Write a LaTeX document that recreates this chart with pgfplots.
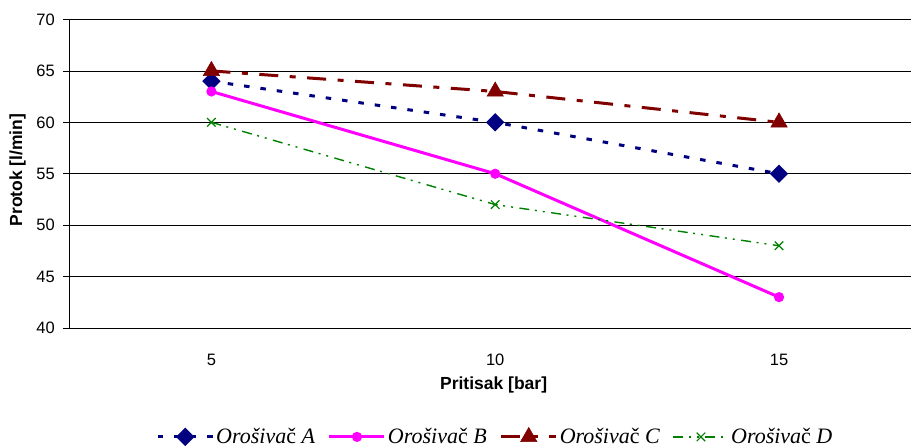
\documentclass[border=0pt]{standalone}
\usepackage{fontspec}
\setmainfont{Liberation Sans}
\newfontfamily\legfont{Liberation Serif}
\usepackage{pgfplots}
\pgfplotsset{compat=1.18}
\definecolor{cA}{RGB}{0,0,128}
\definecolor{cB}{RGB}{255,0,255}
\definecolor{cC}{RGB}{128,0,0}
\definecolor{cD}{RGB}{0,128,0}
\newcommand{\leg}[1]{{\legfont{\itshape Orošiva}č{\itshape\ #1}}}
\begin{document}
\begin{tikzpicture}[x=1bp,y=1bp]
\useasboundingbox (-69.5,-120) rectangle (841.5,328);
\begin{axis}[
  at={(0,0)}, anchor=south west,
  scale only axis,
  width=841.5bp, height=308.5bp,
  xmin=-0.5, xmax=2.465,
  ymin=40, ymax=70,
  xtick={0,1,2}, xticklabels={5,10,15},
  x tick style={draw=none},
  ytick={40,45,50,55,60,65,70},
  axis x line*=bottom, axis y line*=left,
  axis line style={black, line width=0.9bp},
  ymajorgrids,
  grid style={black, line width=0.8bp},
  tick align=outside,
  major tick length=6bp,
  y tick style={black, line width=0.8bp},
  /pgf/number format/assume math mode=true,
  tick label style={font=\fontsize{16.5bp}{19bp}\selectfont},
  xticklabel style={anchor=center, yshift=-26bp},
  yticklabel style={anchor=east, inner sep=0pt, xshift=-8.5bp},
  xlabel={\textbf{Pritisak [bar]}},
  ylabel={\textbf{Protok [l/min]}},
  label style={font=\fontsize{17.5bp}{20bp}\selectfont},
  xlabel style={at={(axis description cs:0.504,-0.1848)}, anchor=center},
  ylabel style={at={(axis description cs:-0.0618,0.512)}, anchor=center, rotate=0},
  legend columns=4,
  legend style={draw=none, fill=none, at={(0.506,-0.353)}, anchor=center,
    font=\fontsize{22bp}{24bp}\selectfont, inner sep=0pt,
    /tikz/every even column/.append style={column sep=11bp},
    cells={anchor=west}},
  legend image code/.code={%
    \draw[mark repeat=2, mark phase=2, #1] plot coordinates {(0bp,0bp) (27.5bp,0bp) (55bp,0bp)};},
  clip=false,
]
\addplot[cA, line width=3bp, dash pattern=on 5.5bp off 11bp,
  mark=square*, mark size=5bp, mark options={solid, rotate=45, fill=cA}]
  coordinates {(0,64) (1,60) (2,55)};
\addlegendentry{\leg{A}}
\addplot[cB, line width=3bp, solid,
  mark=*, mark size=3.5bp, mark options={solid, fill=cB}]
  coordinates {(0,63) (1,55) (2,43)};
\addlegendentry{\leg{B}}
\addplot[cC, line width=3bp, dash pattern=on 19bp off 11.5bp on 6bp off 11.5bp,
  mark=triangle*, mark size=9.5bp, mark options={solid, fill=cC, line width=0.5bp}]
  coordinates {(0,65) (1,63) (2,60)};
\addlegendentry{\leg{C}}
\addplot[cD, line width=1.4bp, dash pattern=on 10bp off 5.5bp on 2bp off 6bp on 2bp off 6.5bp,
  mark=x, mark size=6bp, mark options={solid, line width=1.2bp}]
  coordinates {(0,60) (1,52) (2,48)};
\addlegendentry{\leg{D}}
\end{axis}
\end{tikzpicture}
\end{document}
